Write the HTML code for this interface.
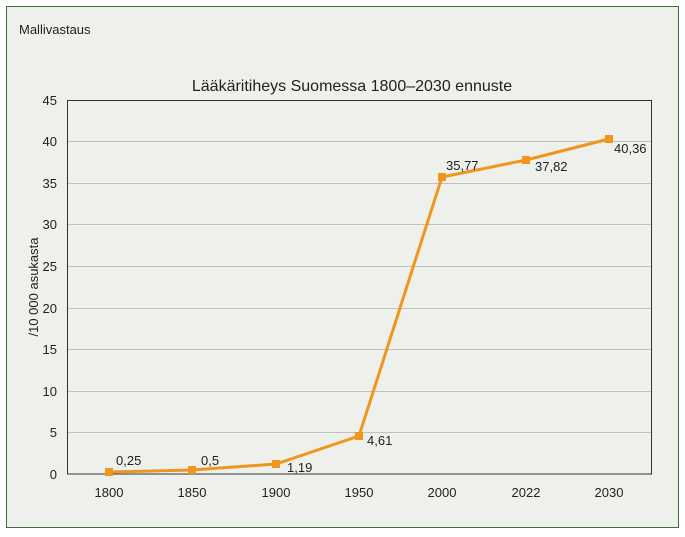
<!DOCTYPE html>
<html><head><meta charset="utf-8"><style>
html,body{margin:0;padding:0;background:#fff;}
svg{display:block;font-family:"Liberation Sans",sans-serif;}
</style></head><body>
<svg width="685" height="537" viewBox="0 0 685 537">
<rect x="6.5" y="6.5" width="672" height="521" fill="#edf0eb" stroke="#3f6e3a" stroke-width="1"/>
<text x="19" y="34" font-size="13" fill="#222">Mallivastaus</text>
<text x="352" y="91" font-size="16" text-anchor="middle" fill="#222">Lääkäritiheys Suomessa 1800–2030 ennuste</text>
<g stroke="#bfc2bd" stroke-width="1">
<line x1="67" x2="652" y1="141.5" y2="141.5"/><line x1="67" x2="652" y1="183.5" y2="183.5"/>
<line x1="67" x2="652" y1="224.5" y2="224.5"/><line x1="67" x2="652" y1="266.5" y2="266.5"/>
<line x1="67" x2="652" y1="308.5" y2="308.5"/><line x1="67" x2="652" y1="349.5" y2="349.5"/>
<line x1="67" x2="652" y1="391.5" y2="391.5"/><line x1="67" x2="652" y1="432.5" y2="432.5"/>
</g>
<rect x="67.5" y="100.5" width="584" height="373.5" fill="none" stroke="#333" stroke-width="1"/>
<g font-size="13" fill="#222" text-anchor="end">
<text x="57" y="105">45</text><text x="57" y="146">40</text><text x="57" y="188">35</text>
<text x="57" y="229">30</text><text x="57" y="271">25</text><text x="57" y="313">20</text>
<text x="57" y="354">15</text><text x="57" y="396">10</text><text x="57" y="437">5</text>
<text x="57" y="479">0</text>
</g>
<text transform="translate(38,287) rotate(-90)" font-size="13" fill="#222" text-anchor="middle">/10 000 asukasta</text>
<g font-size="13" fill="#222" text-anchor="middle">
<text x="109" y="497">1800</text><text x="192" y="497">1850</text><text x="276" y="497">1900</text>
<text x="359" y="497">1950</text><text x="442" y="497">2000</text><text x="526" y="497">2022</text>
<text x="609" y="497">2030</text>
</g>
<polyline fill="none" stroke="#f0961e" stroke-width="3" points="109,472 192,470 276,464 359,436 442,177 526,160 609,139"/>
<g fill="#f0961e">
<rect x="105" y="468" width="8" height="8"/><rect x="188" y="466" width="8" height="8"/>
<rect x="272" y="460" width="8" height="8"/><rect x="355" y="432" width="8" height="8"/>
<rect x="438" y="173" width="8" height="8"/><rect x="522" y="156" width="8" height="8"/>
<rect x="605" y="135" width="8" height="8"/>
</g>
<g font-size="13" fill="#222">
<text x="116" y="465">0,25</text><text x="201" y="465">0,5</text><text x="287" y="472">1,19</text>
<text x="367" y="445">4,61</text><text x="446" y="170">35,77</text><text x="535" y="171">37,82</text>
<text x="614" y="153">40,36</text>
</g>
</svg>
</body></html>
